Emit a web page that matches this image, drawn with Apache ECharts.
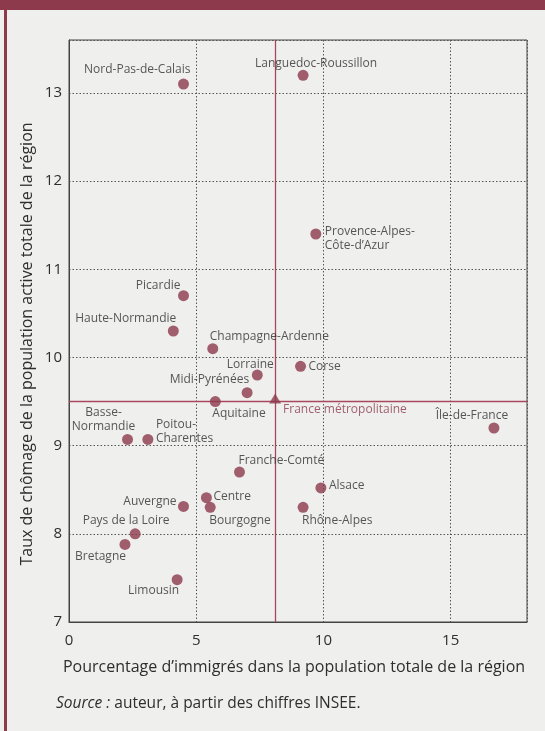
<!DOCTYPE html>
<html>
<head>
<meta charset="utf-8">
<script src="https://cdn.jsdelivr.net/npm/echarts@6/dist/echarts.min.js"></script>
<style>
  html, body { margin: 0; padding: 0; background: #efefee; }
  #chart { width: 545px; height: 731px; }
</style>
</head>
<body>
<div id="chart"></div>
<script>
// ---- Data ----
const regions = [
  'Nord-Pas-de-Calais', 'Languedoc-Roussillon', 'Provence-Alpes-Côte-d\u2019Azur', 'Picardie',
  'Haute-Normandie', 'Champagne-Ardenne', 'Corse', 'Lorraine', 'Midi-Pyrénées', 'Aquitaine',
  'Île-de-France', 'Basse-Normandie', 'Poitou-Charentes', 'Franche-Comté', 'Alsace',
  'Centre', 'Auvergne', 'Bourgogne', 'Rhône-Alpes', 'Pays de la Loire', 'Bretagne', 'Limousin'
];
const immigres = [4.5, 9.2, 9.7, 4.5, 4.1, 5.65, 9.1, 7.4, 7.0, 5.75, 16.7, 2.3, 3.1, 6.7, 9.9, 5.4, 4.5, 5.55, 9.2, 2.6, 2.2, 4.25];
const chomage  = [13.1, 13.2, 11.4, 10.7, 10.3, 10.1, 9.9, 9.8, 9.6, 9.5, 9.2, 9.07, 9.07, 8.7, 8.52, 8.41, 8.31, 8.3, 8.3, 8.0, 7.88, 7.48];
const displayNames = {
  'Provence-Alpes-Côte-d\u2019Azur': 'Provence-Alpes-\nCôte-d\u2019Azur',
  'Basse-Normandie': 'Basse-\nNormandie',
  'Poitou-Charentes': 'Poitou-\nCharentes'
};
const franceName = 'France métropolitaine';
const franceImmigres = 8.1;
const franceChomage = 9.5;
const xTicks = [0, 5, 10, 15];
const yTicks = [7, 8, 9, 10, 11, 12, 13];
const xTitle = 'Pourcentage d\u2019immigrés dans la population totale de la région';
const yTitle = 'Taux de chômage de la population active totale de la région';

// ---- Label placement (style only): [align, dx, dy] relative to the dot centre ----
const labelPlace = {
  'Nord-Pas-de-Calais': ['right', 7, -15],
  'Languedoc-Roussillon': ['center', 13, -12],
  'Provence-Alpes-Côte-d\u2019Azur': ['left', 9, 5],
  'Picardie': ['right', -3, -10],
  'Haute-Normandie': ['right', 3, -12],
  'Champagne-Ardenne': ['left', -3, -12],
  'Corse': ['left', 8, 0],
  'Lorraine': ['center', -7, -11],
  'Midi-Pyrénées': ['right', 2, -13],
  'Aquitaine': ['left', -3, 12],
  'Île-de-France': ['center', -22, -12],
  'Basse-Normandie': ['center', -24, -20],
  'Poitou-Charentes': ['left', 8, -8],
  'Franche-Comté': ['left', -1, -12],
  'Alsace': ['left', 8, -2],
  'Centre': ['left', 7, -1],
  'Auvergne': ['right', -7, -5],
  'Bourgogne': ['left', -1, 13],
  'Rhône-Alpes': ['left', -1, 13],
  'Pays de la Loire': ['center', -9, -13],
  'Bretagne': ['right', 1, 12],
  'Limousin': ['right', 2, 11]
};

const MAROON = '#8c3a4c';
const LINE = '#a8485e';
const TEXT = '#2e2e2e';
const FONT = '"Open Sans", "Noto Sans", sans-serif';

const points = regions.map((r, i) => {
  const p = labelPlace[r];
  return {
    name: r,
    value: [immigres[i], chomage[i]],
    label: {
      show: true,
      formatter: displayNames[r] || r,
      position: 'inside',
      align: p[0],
      verticalAlign: 'middle',
      offset: [p[1], p[2]]
    }
  };
});

const chart = echarts.init(document.getElementById('chart'), null, { renderer: 'canvas' });
chart.setOption({
  backgroundColor: '#efefee',
  animation: false,
  grid: { left: 69, right: 18, top: 40, bottom: 109, show: true, borderColor: '#444', borderWidth: 1, backgroundColor: 'transparent' },
  xAxis: {
    type: 'value', min: 0, max: 18, interval: 5,
    axisLine: { show: true, lineStyle: { color: '#444', width: 1 } },
    axisTick: { show: false },
    axisLabel: { color: TEXT, fontSize: 15, fontFamily: FONT, margin: 11, showMaxLabel: false,
      formatter: v => xTicks.indexOf(v) >= 0 ? String(v) : '' },
    splitLine: { show: true, lineStyle: { color: '#555', width: 1, type: [1.5, 2] } }
  },
  yAxis: {
    type: 'value', min: 7, max: 13.6, interval: 1,
    axisLine: { show: true, lineStyle: { color: '#444', width: 1 } },
    axisTick: { show: false },
    axisLabel: { color: TEXT, fontSize: 15, fontFamily: FONT, margin: 7, showMaxLabel: false,
      formatter: v => yTicks.indexOf(v) >= 0 ? String(v) : '' },
    splitLine: { show: true, lineStyle: { color: '#555', width: 1, type: [1.5, 2] } }
  },
  graphic: [
    { type: 'rect', shape: { x: 0, y: 0, width: 545, height: 10 }, style: { fill: MAROON }, z: 100 },
    { type: 'rect', shape: { x: 4, y: 0, width: 3, height: 731 }, style: { fill: MAROON }, z: 100 },
    { type: 'text', x: 27, y: 344, rotation: Math.PI / 2,
      style: { text: yTitle, fill: TEXT, font: '16px ' + FONT, align: 'center', verticalAlign: 'middle' } },
    { type: 'text', x: 294, y: 667,
      style: { text: xTitle, fill: TEXT, font: '16px ' + FONT, align: 'center', verticalAlign: 'middle' } },
    { type: 'text', x: 56, y: 704,
      style: { text: '{i|Source :} auteur, à partir des chiffres INSEE.', fill: TEXT, font: '15.5px ' + FONT,
        verticalAlign: 'middle',
        rich: { i: { fontStyle: 'italic', fontSize: 15.5, fontFamily: FONT, fill: TEXT } } } }
  ],
  series: [
    {
      type: 'scatter',
      symbol: 'circle',
      symbolSize: 11,
      itemStyle: { color: MAROON },
      label: { color: TEXT, fontSize: 12, fontFamily: FONT, lineHeight: 14 },
      data: points,
      z: 5,
      markLine: {
        silent: true,
        symbol: 'none',
        label: { show: false },
        lineStyle: { color: LINE, width: 1.3, type: 'solid', opacity: 1 },
        data: [{ xAxis: franceImmigres }, { yAxis: franceChomage }]
      }
    },
    {
      type: 'scatter',
      symbol: 'triangle',
      symbolSize: [12, 10],
      symbolOffset: [0, -3],
      itemStyle: { color: MAROON },
      data: [{
        name: franceName,
        value: [franceImmigres, franceChomage],
        label: { show: true, formatter: franceName, position: 'inside', align: 'left', verticalAlign: 'middle',
          offset: [8, 11], color: MAROON, fontSize: 12, fontFamily: FONT }
      }],
      z: 6
    }
  ]
});
</script>
</body>
</html>
